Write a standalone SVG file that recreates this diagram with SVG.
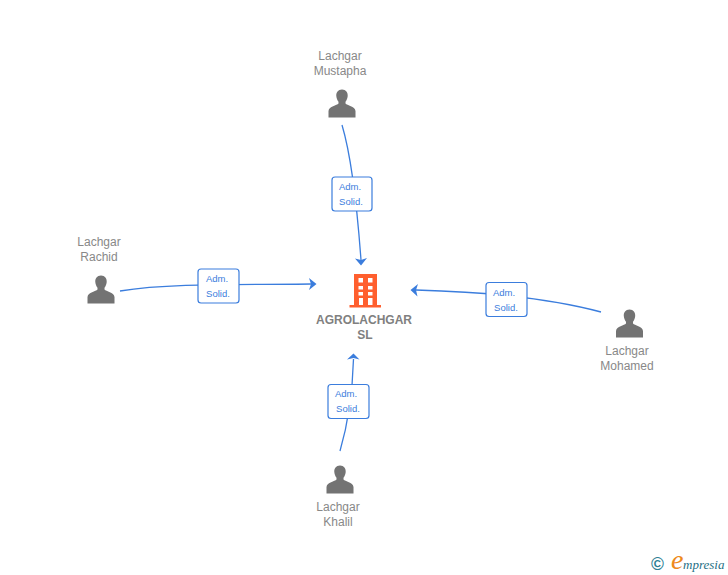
<svg xmlns="http://www.w3.org/2000/svg" width="728" height="575" viewBox="0 0 728 575">
<style>
text{font-family:"Liberation Sans",Arial,sans-serif}
.n{font-size:12px;fill:#888888;text-anchor:middle}
.c{font-size:12px;font-weight:700;fill:#808080;text-anchor:middle}
.l{font-size:9.5px;fill:#3b7ddd;text-anchor:middle}
.e{fill:none;stroke:#3b7ddd;stroke-width:1.3}
.b{fill:#fff;stroke:#3b7ddd;stroke-width:1.2}
.p{fill:#737373}
.a{fill:#3b7ddd}
</style>
<defs>
<g id="person">
<path class="p" d="M0,-14.500C-4,-14.500 -6,-11.500 -5.700,-8C-5.500,-5.500 -4.500,-3.500 -3.500,-2.300L-3.500,-0.500C-5,1.500 -13,2 -13.500,7L-13.500,13.500L13.500,13.500L13.500,7C13,2 5,1.500 3.500,-0.500L3.500,-2.300C4.500,-3.500 5.500,-5.500 5.700,-8C6,-11.500 4,-14.500 0,-14.500Z"/>
</g>
</defs>
<g id="connectors">
<path class="e" d="M342,125Q354,165 361,260"/>
<path class="a" d="M361,265.500L355,258.500L361,260L367,258Z"/>
<path class="e" d="M120,291C170,283 240,285 311,284"/>
<path class="a" d="M316.500,284L309,278L311,284L309,290Z"/>
<path class="e" d="M601,312Q530,293 416,290"/>
<path class="a" d="M410.500,290L418,284L416,290L417.500,296.500Z"/>
<path class="e" d="M340,451Q352,410 353.500,359"/>
<path class="a" d="M353.500,353.500L347,359.500L353.500,358L359.500,359.500Z"/>
</g>
<g id="edge-top"><rect class="b" x="332" y="177" width="40" height="34" rx="3"/><text class="l" x="350" y="190">Adm.</text><text class="l" x="351" y="205">Solid.</text></g>
<g id="edge-left"><rect class="b" x="198" y="269" width="41" height="34" rx="3"/><text class="l" x="217" y="282">Adm.</text><text class="l" x="218" y="297">Solid.</text></g>
<g id="edge-right"><rect class="b" x="486" y="282.500" width="41" height="34" rx="3"/><text class="l" x="504" y="296">Adm.</text><text class="l" x="506" y="311">Solid.</text></g>
<g id="edge-bottom"><rect class="b" x="328" y="384.500" width="41" height="34" rx="3"/><text class="l" x="346" y="397">Adm.</text><text class="l" x="348" y="412">Solid.</text></g>
<g id="node-company">
<path fill="#ff5f2e" fill-rule="evenodd" d="M354,274H377V305H381V307.500H349.500V305H354ZM358.500,278V282.500H363V278ZM368,278V282.500H372.500V278ZM358.500,286V289.500H363V286ZM368,286V289.500H372.500V286ZM358.500,292V295.500H363V292ZM368,292V295.500H372.500V292ZM359,298V305H363V298ZM368,298V305H372.500V298Z"/>
<text class="c" x="364" y="324">AGROLACHGAR</text>
<text class="c" x="365" y="339">SL</text>
</g>
<g id="node-mustapha"><text class="n" x="340" y="60">Lachgar</text><text class="n" x="340" y="75">Mustapha</text><use href="#person" x="342" y="104"/></g>
<g id="node-rachid"><text class="n" x="99" y="246">Lachgar</text><text class="n" x="99" y="261">Rachid</text><use href="#person" x="101" y="290"/></g>
<g id="node-mohamed"><use href="#person" x="629.500" y="324"/><text class="n" x="627" y="355">Lachgar</text><text class="n" x="627" y="370">Mohamed</text></g>
<g id="node-khalil"><use href="#person" x="340" y="480"/><text class="n" x="338" y="511">Lachgar</text><text class="n" x="338" y="526">Khalil</text></g>
<g id="logo">
<text x="657.500" y="570" font-size="17.500" font-weight="700" fill="#2f7f95" text-anchor="middle">©</text>
<text x="671" y="569" font-size="28" font-style="italic" fill="#ee8a1c" style="font-family:'Liberation Serif',serif">e</text>
<text x="683" y="568.500" font-size="13" font-style="italic" fill="#1f6f85" style="font-family:'Liberation Serif',serif">mpresia</text>
</g>
</svg>
